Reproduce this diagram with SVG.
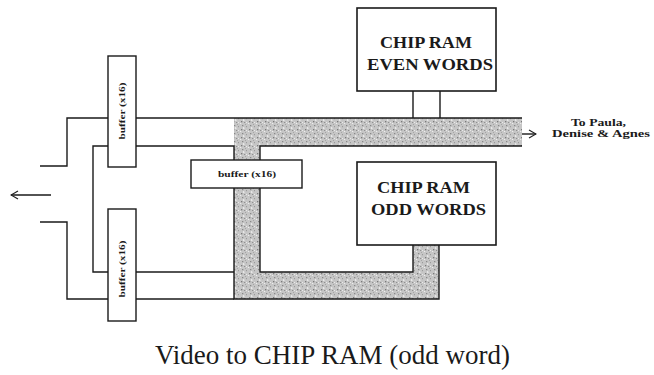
<svg xmlns="http://www.w3.org/2000/svg" width="654" height="375" viewBox="0 0 654 375">
<defs>
<pattern id="stip" width="8" height="8" patternUnits="userSpaceOnUse">
<rect width="8" height="8" fill="#c6c6c6"/>
<rect x="1" y="1" width="1.3" height="1.3" fill="#7a7a7a"/>
<rect x="4" y="2" width="1.2" height="1" fill="#909090"/>
<rect x="2" y="5" width="1.3" height="1.2" fill="#888888"/>
<rect x="6" y="6" width="1" height="1.2" fill="#9a9a9a"/>
<rect x="5" y="4" width="1" height="1" fill="#a5a5a5"/>
<rect x="0" y="3" width="1.2" height="1" fill="#ececec"/>
<rect x="3" y="0" width="1.5" height="1" fill="#e8e8e8"/>
<rect x="6" y="2" width="1" height="1" fill="#eaeaea"/>
<rect x="3" y="7" width="1.2" height="1" fill="#e6e6e6"/>
</pattern>
<marker id="arr" markerWidth="10" markerHeight="10" refX="9" refY="5" orient="auto" markerUnits="userSpaceOnUse">
<path d="M2,1 L9,5 L2,9" fill="none" stroke="#222" stroke-width="1.2"/>
</marker>
</defs>
<style>
.ln{fill:none;stroke:#1a1a1a;stroke-width:1.4}
.box{fill:#fff;stroke:#1a1a1a;stroke-width:1.6}
.buf{fill:#fff;stroke:#1a1a1a;stroke-width:1.4}
.big{font-family:"Liberation Serif",serif;font-size:16px;font-weight:bold;fill:#1a1a1a;text-anchor:middle}
.small{font-family:"Liberation Serif",serif;font-size:9px;font-weight:bold;fill:#1a1a1a;text-anchor:middle}
.lab{font-family:"Liberation Serif",serif;font-size:10px;font-weight:bold;fill:#1a1a1a;text-anchor:middle}
.cap{font-family:"Liberation Serif",serif;font-size:28px;fill:#1a1a1a}
</style>
<rect width="654" height="375" fill="#fff"/>
<path d="M234,118 H522 V146 H260 V272 H413 V245 H439 V299 H234 Z" fill="url(#stip)"/>
<g id="connectors">
<path class="ln" d="M40,166 H67 V118 H108"/>
<path class="ln" d="M136,118 H522"/>
<path class="ln" d="M136,146 H234 V160"/>
<path class="ln" d="M260,160 V146 H522"/>
<path class="ln" d="M234,188 V299 H439 V245"/>
<path class="ln" d="M260,188 V272 H413 V245"/>
<path class="ln" d="M108,146 H93 V272 H108"/>
<path class="ln" d="M136,272 H234"/>
<path class="ln" d="M40,222 H67 V299 H108"/>
<path class="ln" d="M136,299 H234"/>
<path class="ln" d="M413,91 V118 M440,91 V118"/>
<path class="ln" d="M522,134 H536" marker-end="url(#arr)"/>
<path class="ln" d="M51,195 H11" marker-end="url(#arr)"/>
</g>
<g id="even">
<rect class="box" x="357" y="8" width="139" height="83"/>
<text class="big" x="426" y="48" textLength="92" lengthAdjust="spacingAndGlyphs">CHIP RAM</text>
<text class="big" x="430" y="70" textLength="126" lengthAdjust="spacingAndGlyphs">EVEN WORDS</text>
</g>
<g id="odd">
<rect class="box" x="357" y="162" width="139" height="83"/>
<text class="big" x="423.5" y="193" textLength="93" lengthAdjust="spacingAndGlyphs">CHIP RAM</text>
<text class="big" x="428.5" y="215" textLength="115" lengthAdjust="spacingAndGlyphs">ODD WORDS</text>
</g>
<g id="buf1">
<rect class="buf" x="108" y="56" width="28" height="111"/>
<text class="small" transform="translate(125,111) rotate(-90)" textLength="57" lengthAdjust="spacingAndGlyphs">buffer (x16)</text>
</g>
<g id="buf2">
<rect class="buf" x="108" y="209" width="28" height="112"/>
<text class="small" transform="translate(125,269) rotate(-90)" textLength="57" lengthAdjust="spacingAndGlyphs">buffer (x16)</text>
</g>
<g id="buf3">
<rect class="buf" x="191" y="160" width="111" height="28"/>
<text class="small" x="247" y="177" textLength="58" lengthAdjust="spacingAndGlyphs">buffer (x16)</text>
</g>
<g id="dest">
<text class="lab" x="598.5" y="126" textLength="55" lengthAdjust="spacingAndGlyphs">To Paula,</text>
<text class="lab" x="601" y="137" textLength="98" lengthAdjust="spacingAndGlyphs">Denise &amp; Agnes</text>
</g>
<text class="cap" x="155" y="364" textLength="355" lengthAdjust="spacingAndGlyphs">Video to CHIP RAM (odd word)</text>
</svg>
